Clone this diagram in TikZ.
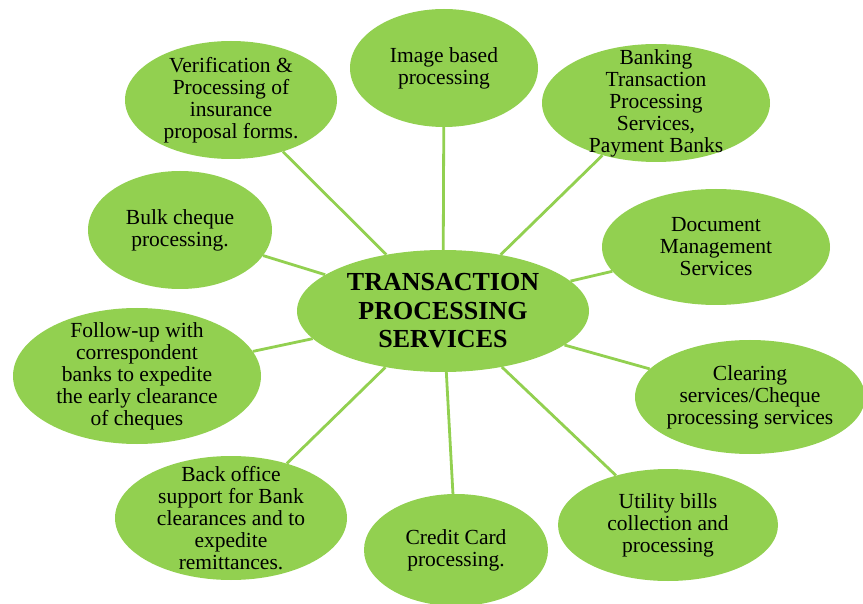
\documentclass[tikz,border=0pt]{standalone}
\usepackage{fontspec}
\setmainfont{Liberation Serif}
\usetikzlibrary{shapes.geometric}
\definecolor{leafGreen}{HTML}{92D050}

\begin{document}
\begin{tikzpicture}[x=1pt, y=-1pt,
        bubble/.style={ellipse, fill=leafGreen, inner sep=0pt},
        bubbleText/.style={align=center, inner sep=0pt, font=\fontsize{21.5}{22}\selectfont},
        spoke/.style={draw=leafGreen, line width=2.8pt}]
        \useasboundingbox (0, 0) rectangle (863, 604);

        \node[bubble, minimum width=292, minimum height=122, label={[bubbleText, font=\fontsize{26}{28.5}\selectfont\bfseries]center:{TRANSACTION\\PROCESSING\\SERVICES}}] (tpsNode) at (443, 311) {};

        \node[bubble, minimum width=188, minimum height=118, label={[bubbleText]center:{Image based\\processing}}] (imageNode) at (444, 68) {};
        \node[bubble, minimum width=228, minimum height=118, label={[bubbleText]center:{Banking\\Transaction\\Processing\\Services,\\Payment Banks}}] (bankNode) at (656, 103) {};
        \node[bubble, minimum width=228, minimum height=116, label={[bubbleText]center:{Document\\Management\\Services}}] (docNode) at (716, 247) {};
        \node[bubble, minimum width=230, minimum height=114, label={[bubbleText]center:{Clearing\\services/Cheque\\processing services}}] (clearNode) at (750, 397) {};
        \node[bubble, minimum width=220, minimum height=112, label={[bubbleText]center:{Utility bills\\collection and\\processing}}] (utilNode) at (668, 525) {};
        \node[bubble, minimum width=184, minimum height=112, label={[bubbleText]center:{Credit Card\\processing.}}] (cardNode) at (456, 550) {};
        \node[bubble, minimum width=232, minimum height=124, label={[bubbleText]center:{Back office\\support for Bank\\clearances and to\\expedite\\remittances.}}] (backNode) at (231, 518) {};
        \node[bubble, minimum width=248, minimum height=136, label={[bubbleText]center:{Follow-up with\\correspondent\\banks to expedite\\the early clearance\\of cheques}}] (followNode) at (137, 376) {};
        \node[bubble, minimum width=184, minimum height=118, label={[bubbleText]center:{Bulk cheque\\processing.}}] (bulkNode) at (180, 230) {};
        \node[bubble, minimum width=212, minimum height=118, label={[bubbleText]center:{Verification \&\\Processing of\\insurance\\proposal forms.}}] (verifyNode) at (231, 100) {};

        \draw (tpsNode) edge[spoke] (imageNode);
        \draw (tpsNode) edge[spoke] (bankNode);
        \draw (tpsNode) edge[spoke] (docNode);
        \draw (tpsNode) edge[spoke] (clearNode);
        \draw (tpsNode) edge[spoke] (utilNode);
        \draw (tpsNode) edge[spoke] (cardNode);
        \draw (tpsNode) edge[spoke] (backNode);
        \draw (tpsNode) edge[spoke] (followNode);
        \draw (tpsNode) edge[spoke] (bulkNode);
        \draw (tpsNode) edge[spoke] (verifyNode);
      \end{tikzpicture}
\end{document}
